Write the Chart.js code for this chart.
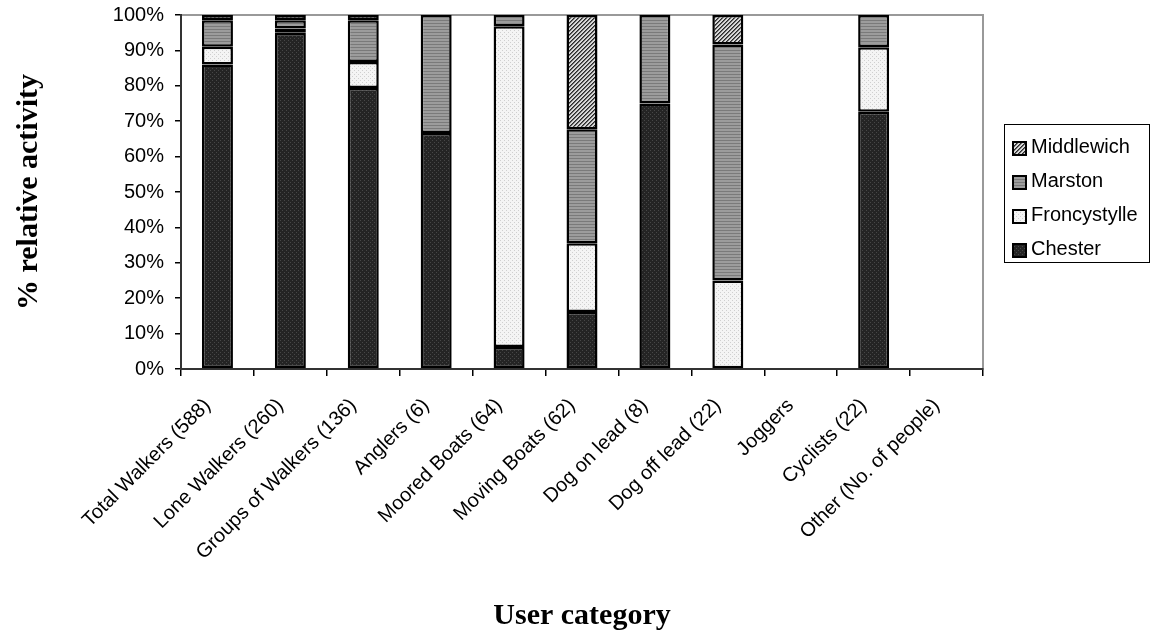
<!DOCTYPE html>
<html>
<head>
<meta charset="utf-8">
<script src="https://cdn.jsdelivr.net/npm/chart.js@4/dist/chart.umd.min.js"></script>
<style>
  html, body { margin: 0; padding: 0; background: #fff; }
  #wrap { width: 1150px; height: 634px; }
</style>
</head>
<body>
<div id="wrap"><canvas id="c" width="1150" height="634"></canvas></div>
<script>
// ── data (percent of each user category) ──
const categories = [
  "Total Walkers (588)", "Lone Walkers (260)", "Groups of Walkers (136)", "Anglers (6)",
  "Moored Boats (64)", "Moving Boats (62)", "Dog on lead (8)", "Dog off lead (22)",
  "Joggers", "Cyclists (22)", "Other (No. of people)"
];
const chester     = [86,  95,  79.4, 66.7, 6.25, 16.1, 75,   null, null, 72.7, null];
const froncystylle = [5,   1.2, 7.3,  null, 90.6, 19.4, null, 25,   null, 18.2, null];
const marston     = [7.5, 2.3, 11.8, 33.3, 3.15, 32.2, 25,   66.7, null, 9.1,  null];
const middlewich  = [1.5, 1.5, 1.5,  null, null, 32.3, null, 8.3,  null, null, null];
const yTicks = [0, 10, 20, 30, 40, 50, 60, 70, 80, 90, 100];

const SANS = "'Liberation Sans', Arial, sans-serif";
const SERIF = "'Liberation Serif', 'Times New Roman', serif";

// small tiled fills that mimic the old Excel greyscale patterns
function makePattern(size, paint) {
  const c = document.createElement("canvas");
  c.width = size; c.height = size;
  const g = c.getContext("2d");
  paint(g, size);
  return document.getElementById("c").getContext("2d").createPattern(c, "repeat");
}
const PAT = {
  chester: makePattern(4, (g) => {
    g.fillStyle = "#242424"; g.fillRect(0, 0, 4, 4);
    g.fillStyle = "#474747"; g.fillRect(0, 0, 1, 1); g.fillRect(2, 2, 1, 1);
  }),
  fron: makePattern(4, (g) => {
    g.fillStyle = "#f4f4f4"; g.fillRect(0, 0, 4, 4);
    g.fillStyle = "#cfcfcf"; g.fillRect(0, 0, 1, 1); g.fillRect(2, 2, 1, 1);
  }),
  marston: makePattern(3, (g) => {
    g.fillStyle = "#9c9c9c"; g.fillRect(0, 0, 3, 3);
    g.fillStyle = "#7a7a7a"; g.fillRect(0, 2, 3, 1);
  }),
  middlewich: makePattern(4, (g) => {
    g.fillStyle = "#d8d8d8"; g.fillRect(0, 0, 4, 4);
    g.fillStyle = "#2a2a2a";
    g.fillRect(0, 3, 1, 1); g.fillRect(1, 2, 1, 1); g.fillRect(2, 1, 1, 1); g.fillRect(3, 0, 1, 1);
    g.fillStyle = "#6a6a6a";
    g.fillRect(1, 3, 1, 1); g.fillRect(2, 2, 1, 1); g.fillRect(3, 1, 1, 1); g.fillRect(0, 0, 1, 1);
  }),
};

function series(label, data, fill) {
  return {
    label, data,
    backgroundColor: fill,
    borderColor: "#000",
    borderWidth: 2.5,
    borderSkipped: false,
    categoryPercentage: 1,
    barPercentage: 0.425,
  };
}

// grey frame round the plot area (drawn before the black axes go on top)
const frame = {
  id: "frame",
  beforeDraw(chart) {
    const { ctx, chartArea: a } = chart;
    ctx.save();
    ctx.strokeStyle = "#999";
    ctx.lineWidth = 2;
    ctx.strokeRect(a.left, a.top, a.right - a.left, a.bottom - a.top);
    ctx.restore();
  },
};

// boxed legend on the right, top item = last series (as in the original)
const boxLegend = {
  id: "boxLegend",
  afterDraw(chart) {
    const { ctx } = chart;
    const x = 1004, y = 124, w = 145, h = 138;
    ctx.save();
    ctx.fillStyle = "#fff";
    ctx.fillRect(x, y, w, h);
    ctx.strokeStyle = "#000";
    ctx.lineWidth = 1;
    ctx.strokeRect(x + 0.5, y + 0.5, w, h);
    ctx.font = "20px " + SANS;
    ctx.textBaseline = "middle";
    const items = chart.data.datasets.slice().reverse();
    items.forEach((ds, i) => {
      const cy = y + 22 + i * 34;
      ctx.fillStyle = ds.backgroundColor;
      ctx.fillRect(x + 9, cy - 4, 13, 13);
      ctx.lineWidth = 2;
      ctx.strokeStyle = "#000";
      ctx.strokeRect(x + 9, cy - 4, 13, 13);
      ctx.fillStyle = "#000";
      ctx.fillText(ds.label, x + 27, cy + 1);
    });
    ctx.restore();
  },
};

new Chart(document.getElementById("c"), {
  type: "bar",
  data: {
    labels: categories,
    datasets: [
      series("Chester", chester, PAT.chester),
      series("Froncystylle", froncystylle, PAT.fron),
      series("Marston", marston, PAT.marston),
      series("Middlewich", middlewich, PAT.middlewich),
    ],
  },
  options: {
    responsive: false,
    animation: false,
    devicePixelRatio: 1,
    layout: { padding: { top: 15, right: 167, left: 0, bottom: 0 } },
    plugins: { legend: { display: false }, tooltip: { enabled: false } },
    scales: {
      x: {
        stacked: true,
        afterFit: (s) => { s.height = 265; },
        grid: { offset: true, drawOnChartArea: false, drawTicks: true, tickLength: 7, color: "#000", lineWidth: 1.5 },
        border: { color: "#333", width: 2 },
        ticks: {
          color: "#000", font: { family: SANS, size: 20 },
          minRotation: 45, maxRotation: 45, autoSkip: false, padding: 18, labelOffset: -10,
        },
        title: {
          display: true, text: "User category", color: "#000",
          font: { family: SERIF, size: 30, weight: "bold" },
          padding: { top: 0, bottom: 0 },
        },
      },
      y: {
        stacked: true,
        min: 0, max: 100,
        afterFit: (s) => { s.width = 181; s.paddingTop = 0; s.paddingBottom = 0; },
        afterBuildTicks: (s) => { s.ticks = yTicks.map((v) => ({ value: v })); },
        grid: { drawOnChartArea: false, drawTicks: true, tickLength: 6, color: "#000", lineWidth: 1.5 },
        border: { color: "#333", width: 2 },
        ticks: {
          color: "#000", font: { family: SANS, size: 20 }, padding: 11,
          callback: (v) => v + "%",
        },
        title: {
          display: true, text: "% relative activity", color: "#000",
          font: { family: SERIF, size: 30, weight: "bold" },
          padding: { top: 11, bottom: 0 },
        },
      },
    },
  },
  plugins: [frame, boxLegend],
});
</script>
</body>
</html>
